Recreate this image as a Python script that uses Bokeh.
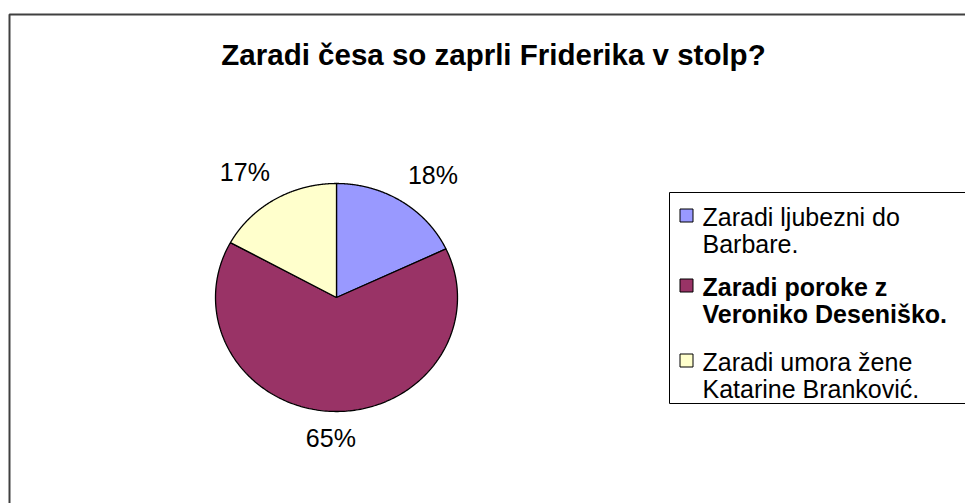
import numpy as np
from bokeh.plotting import figure
from bokeh.models import Range1d
from bokeh.embed import file_html
from bokeh.resources import INLINE
from bokeh.core.properties import value

title = "Zaradi česa so zaprli Friderika v stolp?"
categories = ["Zaradi ljubezni do\nBarbare.",
              "Zaradi poroke z\nVeroniko Deseniško.",
              "Zaradi umora žene\nKatarine Branković."]
percentages = [18, 65, 17]
colors = ["#9999FF", "#993366", "#FFFFCC"]
bold_entry = [False, True, False]

FONT = value("Liberation Sans")
W, H = 965, 503
TXT_SHIFT = 6  # compensation for text baseline placement
p = figure(width=W, height=H, x_range=Range1d(0, W), y_range=Range1d(H, 0),
           output_backend="svg", toolbar_location=None, min_border=0)
p.axis.visible = False
p.grid.visible = False
p.outline_line_color = None
p.background_fill_color = "white"
p.border_fill_color = "white"

# outer chart frame
p.quad(left=[9], right=[W + 5], top=[14], bottom=[H + 5],
       fill_color=None, line_color="#404040", line_width=2)

# title
p.text([493], [60 - TXT_SHIFT], text=[title], text_align="center", text_baseline="alphabetic",
       text_font=FONT, text_font_style="bold", text_font_size="29.5px", text_color="black")

# pie (slightly elliptical, as in the reference)
cx, cy, rx, ry = 336, 297, 121, 114
total = sum(percentages)
start = 90.0
xs, ys, lx, ly = [], [], [], []
for v in percentages:
    sweep = 360.0 * v / total
    end = start - sweep
    t = np.radians(np.linspace(start, end, 240))
    xs.append([cx] + list(cx + rx * np.cos(t)) + [cx])
    ys.append([cy] + list(cy - ry * np.sin(t)) + [cy])
    mid = np.radians((start + end) / 2)
    lx.append(cx + 180 * np.cos(mid))
    ly.append(cy - 143 * np.sin(mid) - 2)
    start = end
p.patches(xs, ys, fill_color=colors, line_color="black", line_width=1.3)
p.text(lx, ly, text=[f"{v}%" for v in percentages], text_align="center",
       text_baseline="middle", text_font=FONT, text_font_size="25px", text_color="black")

# legend
p.quad(left=[669], right=[W + 5], top=[192], bottom=[403],
       fill_color="white", line_color="black", line_width=1)
first_baselines = [222, 292, 367]
mx, my = [], []
tx, ty, tt, tb = [], [], [], []
for i, lab in enumerate(categories):
    b0 = first_baselines[i]
    mx.append(686)
    my.append(b0 - 7)
    for j, line in enumerate(lab.split("\n")):
        tx.append(702)
        ty.append(b0 + j * 27 - TXT_SHIFT)
        tt.append(line)
        tb.append(bold_entry[i])
p.rect(mx, my, width=13, height=13, fill_color=colors, line_color="black", line_width=1)
norm = [k for k in range(len(tt)) if not tb[k]]
bld = [k for k in range(len(tt)) if tb[k]]
p.text([tx[k] for k in norm], [ty[k] for k in norm], text=[tt[k] for k in norm],
       text_align="left", text_baseline="alphabetic", text_font=FONT,
       text_font_size="25px", text_color="black")
p.text([tx[k] for k in bld], [ty[k] for k in bld], text=[tt[k] for k in bld],
       text_align="left", text_baseline="alphabetic", text_font=FONT,
       text_font_style="bold", text_font_size="25px", text_color="black")

open("out.html", "w").write(file_html(p, INLINE))
